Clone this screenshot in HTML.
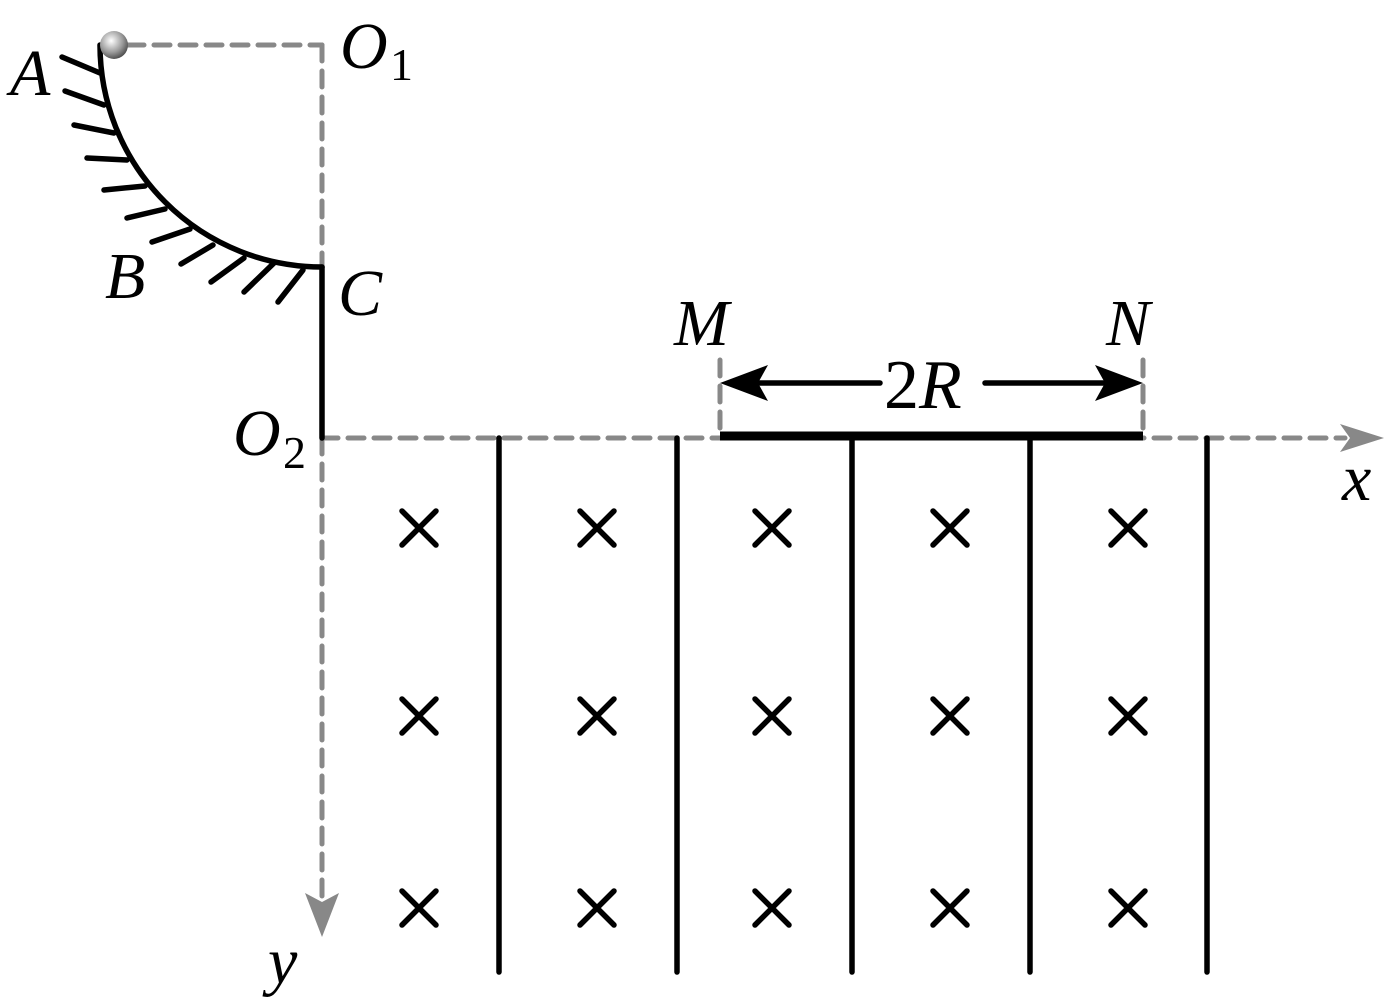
<!DOCTYPE html>
<html><head><style>
html,body{margin:0;padding:0;background:#fff;}
svg{display:block;}
</style></head><body>
<svg width="1392" height="1007" viewBox="0 0 1392 1007" xmlns="http://www.w3.org/2000/svg">
<defs>
<radialGradient id="g" cx="0.4" cy="0.35" r="0.7">
<stop offset="0" stop-color="#fff"/><stop offset="0.6" stop-color="#999"/><stop offset="1" stop-color="#444"/>
</radialGradient>
</defs>
<g stroke="#888" stroke-width="5" stroke-dasharray="16,10" fill="none" stroke-linecap="round">
<line x1="128" y1="45" x2="322" y2="45"/>
<line x1="322" y1="45" x2="322" y2="268"/>
<line x1="322" y1="438" x2="1345" y2="438"/>
<line x1="322" y1="438" x2="322" y2="900"/>
<line x1="720" y1="360" x2="720" y2="436"/>
<line x1="1143" y1="360" x2="1143" y2="436"/>
</g>
<polygon points="1384,438 1340,424 1350,438 1340,452" fill="#888"/>
<polygon points="322,937 305,893 322,902 339,893" fill="#888"/>
<g stroke="#000" stroke-width="5.5" fill="none" stroke-linecap="round">
<path d="M100,45 A222,222 0 0 0 322,267"/>
<line x1="322" y1="267" x2="322" y2="438"/>
<line x1="62" y1="57" x2="100" y2="73"/>
<line x1="65" y1="91" x2="104" y2="105"/>
<line x1="74" y1="125" x2="114" y2="133"/>
<line x1="87" y1="158" x2="127" y2="160"/>
<line x1="104" y1="190" x2="145" y2="186"/>
<line x1="127" y1="218" x2="165" y2="209"/>
<line x1="152" y1="242" x2="190" y2="229"/>
<line x1="181" y1="264" x2="213" y2="245"/>
<line x1="211" y1="282" x2="244" y2="258"/>
<line x1="244" y1="292" x2="274" y2="263"/>
<line x1="278" y1="302" x2="303" y2="270"/>
<line x1="499" y1="438" x2="499" y2="972"/>
<line x1="677" y1="438" x2="677" y2="972"/>
<line x1="852" y1="438" x2="852" y2="972"/>
<line x1="1030" y1="438" x2="1030" y2="972"/>
<line x1="1207" y1="438" x2="1207" y2="972"/>
<line x1="745" y1="383" x2="880" y2="383"/>
<line x1="985" y1="383" x2="1120" y2="383"/>
</g>
<line x1="720" y1="436" x2="1143" y2="436" stroke="#000" stroke-width="9"/>
<polygon points="720,383 768,365 758,383 768,401" fill="#000"/>
<polygon points="1143,383 1095,365 1105,383 1095,401" fill="#000"/>
<g stroke="#000" stroke-width="5.5" stroke-linecap="round">
<path d="M402,511l34,34M436,511l-34,34 M580,511l34,34M614,511l-34,34 M755,511l34,34M789,511l-34,34 M933,511l34,34M967,511l-34,34 M1111,511l34,34M1145,511l-34,34"/>
<path d="M402,699l34,34M436,699l-34,34 M580,699l34,34M614,699l-34,34 M755,699l34,34M789,699l-34,34 M933,699l34,34M967,699l-34,34 M1111,699l34,34M1145,699l-34,34"/>
<path d="M402,891l34,34M436,891l-34,34 M580,891l34,34M614,891l-34,34 M755,891l34,34M789,891l-34,34 M933,891l34,34M967,891l-34,34 M1111,891l34,34M1145,891l-34,34"/>
</g>
<circle cx="114" cy="45" r="14" fill="url(#g)"/>
<g font-family="'Liberation Serif', 'DejaVu Serif', serif" font-style="italic" fill="#000">
<text x="10" y="95" font-size="66">A</text>
<text x="105" y="298" font-size="66">B</text>
<text x="338" y="315" font-size="66">C</text>
<text x="340" y="68" font-size="66">O</text>
<text x="390" y="80" font-size="46" font-style="normal">1</text>
<text x="233" y="455" font-size="66">O</text>
<text x="283" y="468" font-size="46" font-style="normal">2</text>
<text x="674" y="345" font-size="66">M</text>
<text x="1106" y="345" font-size="66">N</text>
<text x="884" y="408" font-size="70" font-style="normal">2<tspan font-style="italic">R</tspan></text>
<text x="1342" y="500" font-size="66">x</text>
<text x="268" y="983" font-size="66">y</text>
</g>
</svg>
</body></html>
